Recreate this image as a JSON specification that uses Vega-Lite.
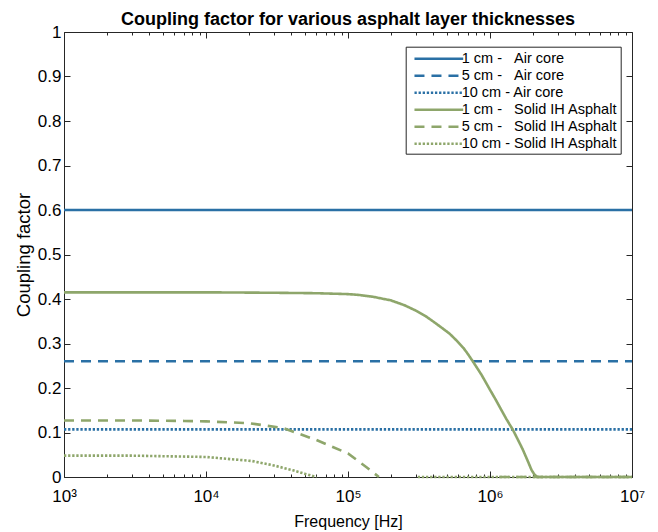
{
  "$schema": "https://vega.github.io/schema/vega-lite/v6.json",
  "width": 568,
  "height": 445,
  "autosize": {"type": "none"},
  "padding": {"left": 64, "top": 32, "right": 26, "bottom": 55},
  "background": "white",
  "title": {"text": "Coupling factor for various asphalt layer thicknesses", "fontSize": 18, "fontWeight": "bold", "font": "Liberation Sans", "color": "#000000", "offset": 5, "dy": 11, "anchor": "middle"},
  "config": {"view": {"stroke": "#262626", "strokeWidth": 1}, "font": "Liberation Sans"},
  "data": {"values": [
    {"s": "1 cm -\u00a0\u00a0\u00a0Air core", "f": 1000, "v": 0.6},
    {"s": "1 cm -\u00a0\u00a0\u00a0Air core", "f": 10000000, "v": 0.6},
    {"s": "5 cm -\u00a0\u00a0\u00a0Air core", "f": 1000, "v": 0.26},
    {"s": "5 cm -\u00a0\u00a0\u00a0Air core", "f": 10000000, "v": 0.26},
    {"s": "10 cm - Air core", "f": 1000, "v": 0.107},
    {"s": "10 cm - Air core", "f": 10000000, "v": 0.107},
    {"s": "1 cm -\u00a0\u00a0\u00a0Solid IH Asphalt", "f": 1000, "v": 0.415},
    {"s": "1 cm -\u00a0\u00a0\u00a0Solid IH Asphalt", "f": 3000, "v": 0.415},
    {"s": "1 cm -\u00a0\u00a0\u00a0Solid IH Asphalt", "f": 10000, "v": 0.415},
    {"s": "1 cm -\u00a0\u00a0\u00a0Solid IH Asphalt", "f": 30000, "v": 0.414},
    {"s": "1 cm -\u00a0\u00a0\u00a0Solid IH Asphalt", "f": 60000, "v": 0.413},
    {"s": "1 cm -\u00a0\u00a0\u00a0Solid IH Asphalt", "f": 100000, "v": 0.411},
    {"s": "1 cm -\u00a0\u00a0\u00a0Solid IH Asphalt", "f": 120000, "v": 0.409},
    {"s": "1 cm -\u00a0\u00a0\u00a0Solid IH Asphalt", "f": 150000, "v": 0.405},
    {"s": "1 cm -\u00a0\u00a0\u00a0Solid IH Asphalt", "f": 200000, "v": 0.397},
    {"s": "1 cm -\u00a0\u00a0\u00a0Solid IH Asphalt", "f": 250000, "v": 0.386},
    {"s": "1 cm -\u00a0\u00a0\u00a0Solid IH Asphalt", "f": 300000, "v": 0.374},
    {"s": "1 cm -\u00a0\u00a0\u00a0Solid IH Asphalt", "f": 350000, "v": 0.362},
    {"s": "1 cm -\u00a0\u00a0\u00a0Solid IH Asphalt", "f": 400000, "v": 0.349},
    {"s": "1 cm -\u00a0\u00a0\u00a0Solid IH Asphalt", "f": 450000, "v": 0.337},
    {"s": "1 cm -\u00a0\u00a0\u00a0Solid IH Asphalt", "f": 520000, "v": 0.322},
    {"s": "1 cm -\u00a0\u00a0\u00a0Solid IH Asphalt", "f": 580000, "v": 0.307},
    {"s": "1 cm -\u00a0\u00a0\u00a0Solid IH Asphalt", "f": 650000, "v": 0.29},
    {"s": "1 cm -\u00a0\u00a0\u00a0Solid IH Asphalt", "f": 700000, "v": 0.276},
    {"s": "1 cm -\u00a0\u00a0\u00a0Solid IH Asphalt", "f": 760000, "v": 0.259},
    {"s": "1 cm -\u00a0\u00a0\u00a0Solid IH Asphalt", "f": 870000, "v": 0.23},
    {"s": "1 cm -\u00a0\u00a0\u00a0Solid IH Asphalt", "f": 1000000, "v": 0.196},
    {"s": "1 cm -\u00a0\u00a0\u00a0Solid IH Asphalt", "f": 1100000, "v": 0.173},
    {"s": "1 cm -\u00a0\u00a0\u00a0Solid IH Asphalt", "f": 1200000, "v": 0.151},
    {"s": "1 cm -\u00a0\u00a0\u00a0Solid IH Asphalt", "f": 1300000, "v": 0.131},
    {"s": "1 cm -\u00a0\u00a0\u00a0Solid IH Asphalt", "f": 1450000, "v": 0.106},
    {"s": "1 cm -\u00a0\u00a0\u00a0Solid IH Asphalt", "f": 1600000, "v": 0.079},
    {"s": "1 cm -\u00a0\u00a0\u00a0Solid IH Asphalt", "f": 1700000, "v": 0.062},
    {"s": "1 cm -\u00a0\u00a0\u00a0Solid IH Asphalt", "f": 1850000, "v": 0.035},
    {"s": "1 cm -\u00a0\u00a0\u00a0Solid IH Asphalt", "f": 1960000, "v": 0.016},
    {"s": "1 cm -\u00a0\u00a0\u00a0Solid IH Asphalt", "f": 2050000, "v": 0.006},
    {"s": "1 cm -\u00a0\u00a0\u00a0Solid IH Asphalt", "f": 2150000, "v": 0},
    {"s": "1 cm -\u00a0\u00a0\u00a0Solid IH Asphalt", "f": 10000000, "v": 0},
    {"s": "5 cm -\u00a0\u00a0\u00a0Solid IH Asphalt", "f": 1000, "v": 0.127},
    {"s": "5 cm -\u00a0\u00a0\u00a0Solid IH Asphalt", "f": 3000, "v": 0.127},
    {"s": "5 cm -\u00a0\u00a0\u00a0Solid IH Asphalt", "f": 7000, "v": 0.126},
    {"s": "5 cm -\u00a0\u00a0\u00a0Solid IH Asphalt", "f": 10000, "v": 0.125},
    {"s": "5 cm -\u00a0\u00a0\u00a0Solid IH Asphalt", "f": 20000, "v": 0.121},
    {"s": "5 cm -\u00a0\u00a0\u00a0Solid IH Asphalt", "f": 35000, "v": 0.11},
    {"s": "5 cm -\u00a0\u00a0\u00a0Solid IH Asphalt", "f": 60000, "v": 0.083},
    {"s": "5 cm -\u00a0\u00a0\u00a0Solid IH Asphalt", "f": 100000, "v": 0.053},
    {"s": "5 cm -\u00a0\u00a0\u00a0Solid IH Asphalt", "f": 135000, "v": 0.022},
    {"s": "5 cm -\u00a0\u00a0\u00a0Solid IH Asphalt", "f": 165000, "v": 0},
    {"s": "5 cm -\u00a0\u00a0\u00a0Solid IH Asphalt", "f": 400000, "v": null},
    {"s": "5 cm -\u00a0\u00a0\u00a0Solid IH Asphalt", "f": 1160000, "v": 0},
    {"s": "5 cm -\u00a0\u00a0\u00a0Solid IH Asphalt", "f": 10000000, "v": 0},
    {"s": "10 cm - Solid IH Asphalt", "f": 1000, "v": 0.048},
    {"s": "10 cm - Solid IH Asphalt", "f": 3000, "v": 0.048},
    {"s": "10 cm - Solid IH Asphalt", "f": 10000, "v": 0.045},
    {"s": "10 cm - Solid IH Asphalt", "f": 21000, "v": 0.036},
    {"s": "10 cm - Solid IH Asphalt", "f": 30000, "v": 0.026},
    {"s": "10 cm - Solid IH Asphalt", "f": 41000, "v": 0.015},
    {"s": "10 cm - Solid IH Asphalt", "f": 50000, "v": 0.007},
    {"s": "10 cm - Solid IH Asphalt", "f": 58000, "v": 0.001},
    {"s": "10 cm - Solid IH Asphalt", "f": 60000, "v": 0},
    {"s": "10 cm - Solid IH Asphalt", "f": 150000, "v": null},
    {"s": "10 cm - Solid IH Asphalt", "f": 310000, "v": 0},
    {"s": "10 cm - Solid IH Asphalt", "f": 10000000, "v": 0}
  ]},
  "layer": [
    {
      "mark": {"type": "line", "strokeWidth": 2.6, "invalid": "break-paths-filter-domains", "strokeCap": "butt"},
      "encoding": {
        "x": {
          "field": "f", "type": "quantitative",
          "scale": {"type": "log", "domain": [1000, 10000000], "nice": false},
          "title": "Frequency [Hz]",
          "axis": {
            "orient": "bottom",
            "values": [1000, 2000, 3000, 4000, 5000, 6000, 7000, 8000, 9000, 10000, 20000, 30000, 40000, 50000, 60000, 70000, 80000, 90000, 100000, 200000, 300000, 400000, 500000, 600000, 700000, 800000, 900000, 1000000, 2000000, 3000000, 4000000, 5000000, 6000000, 7000000, 8000000, 9000000, 10000000],
            "labelExpr": "datum.value == 1000 ? '10³' : datum.value == 10000 ? '10⁴' : datum.value == 100000 ? '10⁵' : datum.value == 1000000 ? '10⁶' : datum.value == 10000000 ? '10⁷' : ''",
            "tickSize": {"condition": {"test": "indexof([1000,10000,100000,1000000,10000000], datum.value) >= 0", "value": -6}, "value": -3},
            "tickColor": "#262626",
            "domain": false,
            "grid": false,
            "labelFlush": false,
            "labelOverlap": false,
            "labelBound": false,
            "labelFontSize": 17,
            "labelColor": "#000000",
            "labelPadding": 17,
            "titleFontSize": 16,
            "titleFontWeight": "normal",
            "titleColor": "#000000",
            "titleX": 284,
            "titleY": 49,
            "titleAlign": "center",
            "titleBaseline": "alphabetic"
          }
        },
        "y": {
          "field": "v", "type": "quantitative",
          "scale": {"domain": [0, 1], "nice": false},
          "title": "Coupling factor",
          "axis": {
            "orient": "left",
            "values": [0, 0.1, 0.2, 0.3, 0.4, 0.5, 0.6, 0.7, 0.8, 0.9, 1],
            "format": ".1~f",
            "tickSize": -6,
            "tickColor": "#262626",
            "domain": false,
            "grid": false,
            "labelFlush": false,
            "labelOverlap": false,
            "labelBound": false,
            "labelFontSize": 17,
            "labelColor": "#000000",
            "labelPadding": 9,
            "titleFontSize": 18.5,
            "titleFontWeight": "normal",
            "titleColor": "#000000",
            "titleAngle": -90,
            "titleX": -40.5,
            "titleY": 222.5,
            "titleAlign": "center",
            "titleBaseline": "middle"
          }
        },
        "color": {
          "field": "s", "type": "nominal", "title": null,
          "scale": {
            "domain": ["1 cm -\u00a0\u00a0\u00a0Air core", "5 cm -\u00a0\u00a0\u00a0Air core", "10 cm - Air core", "1 cm -\u00a0\u00a0\u00a0Solid IH Asphalt", "5 cm -\u00a0\u00a0\u00a0Solid IH Asphalt", "10 cm - Solid IH Asphalt"],
            "range": ["#2a70a5", "#2a70a5", "#2a70a5", "#8ea66b", "#8ea66b", "#8ea66b"]
          },
          "legend": {
            "orient": "none", "legendX": 341.7, "legendY": 14.7,
            "symbolType": "M-0.43,0H6.07", "symbolSize": 225, "symbolStrokeWidth": 2.5, "symbolFillColor": "transparent",
            "labelOffset": 35, "labelFontSize": 14.5, "labelColor": "#000000", "labelLimit": 400,
            "rowPadding": 1, "padding": 3, "strokeColor": "#262626", "fillColor": "white"
          }
        },
        "strokeDash": {
          "field": "s", "type": "nominal", "title": null,
          "scale": {
            "domain": ["1 cm -\u00a0\u00a0\u00a0Air core", "5 cm -\u00a0\u00a0\u00a0Air core", "10 cm - Air core", "1 cm -\u00a0\u00a0\u00a0Solid IH Asphalt", "5 cm -\u00a0\u00a0\u00a0Solid IH Asphalt", "10 cm - Solid IH Asphalt"],
            "range": [[1, 0], [10, 7], [2.3, 1.8], [1, 0], [10, 7], [2.3, 1.8]]
          },
          "legend": {
            "orient": "none", "legendX": 341.7, "legendY": 14.7,
            "symbolType": "M-0.43,0H6.07", "symbolSize": 225, "symbolStrokeWidth": 2.5, "symbolFillColor": "transparent",
            "labelOffset": 35, "labelFontSize": 14.5, "labelColor": "#000000", "labelLimit": 400,
            "rowPadding": 1, "padding": 3, "strokeColor": "#262626", "fillColor": "white"
          }
        }
      }
    },
    {
      "mark": {"type": "line", "opacity": 0, "invalid": "break-paths-filter-domains"},
      "encoding": {
        "x": {
          "field": "f", "type": "quantitative",
          "axis": {
            "orient": "top", "title": null, "labels": false, "domain": false, "grid": false,
            "values": [1000, 2000, 3000, 4000, 5000, 6000, 7000, 8000, 9000, 10000, 20000, 30000, 40000, 50000, 60000, 70000, 80000, 90000, 100000, 200000, 300000, 400000, 500000, 600000, 700000, 800000, 900000, 1000000, 2000000, 3000000, 4000000, 5000000, 6000000, 7000000, 8000000, 9000000, 10000000],
            "tickSize": {"condition": {"test": "indexof([1000,10000,100000,1000000,10000000], datum.value) >= 0", "value": -6}, "value": -3},
            "tickColor": "#262626"
          }
        },
        "y": {
          "field": "v", "type": "quantitative",
          "axis": {
            "orient": "right", "title": null, "labels": false, "domain": false, "grid": false,
            "values": [0, 0.1, 0.2, 0.3, 0.4, 0.5, 0.6, 0.7, 0.8, 0.9, 1],
            "tickSize": -6, "tickColor": "#262626"
          }
        },
        "detail": {"field": "s", "type": "nominal"}
      }
    }
  ],
  "resolve": {"axis": {"x": "independent", "y": "independent"}}
}
